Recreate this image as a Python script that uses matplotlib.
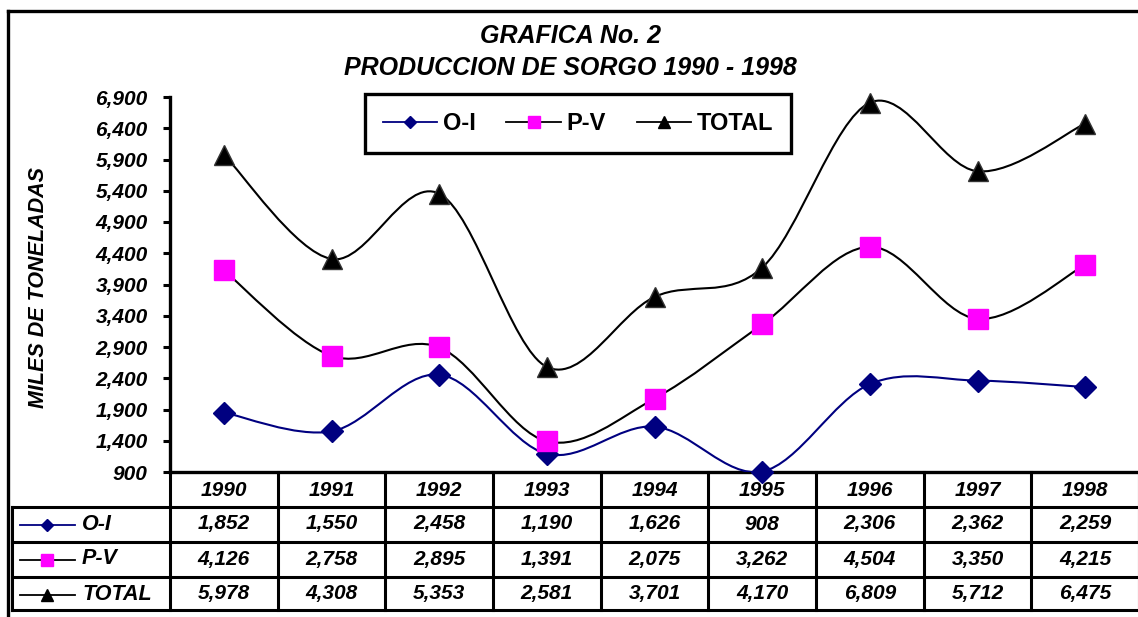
import numpy as np
import matplotlib.pyplot as plt
from matplotlib.path import Path
from matplotlib.patches import PathPatch
from matplotlib.lines import Line2D
from matplotlib.transforms import blended_transform_factory

plt.rcParams['font.family'] = ['Liberation Sans', 'DejaVu Sans']
plt.rcParams['font.weight'] = 'bold'
plt.rcParams['font.style'] = 'italic'

# ========== DATOS ========== #
years = ["1990", "1991", "1992", "1993", "1994", "1995", "1996", "1997", "1998"]
oi = [1852, 1550, 2458, 1190, 1626, 908, 2306, 2362, 2259]
pv = [4126, 2758, 2895, 1391, 2075, 3262, 4504, 3350, 4215]
total = [5978, 4308, 5353, 2581, 3701, 4170, 6809, 5712, 6475]
yticks = list(range(900, 7000, 500))

series = [
    ("O-I", oi, '#000080', 'D', 11, '#000080'),
    ("P-V", pv, 'black', 's', 15, '#FF00FF'),
    ("TOTAL", total, 'black', '^', 15, 'black'),
]

W, H = 1138, 617


def smooth_path(xs, ys):
    # courbe lissée type Excel (Bézier / Catmull-Rom)
    p = np.column_stack([xs, ys]).astype(float)
    n = len(p)
    verts = [p[0]]
    codes = [Path.MOVETO]
    for i in range(n - 1):
        p0 = p[max(i - 1, 0)]
        p3 = p[min(i + 2, n - 1)]
        c1 = p[i] + (p[i + 1] - p0) / 6
        c2 = p[i + 1] - (p3 - p[i]) / 6
        verts += [c1, c2, p[i + 1]]
        codes += [Path.CURVE4] * 3
    return Path(verts, codes)


fig = plt.figure(figsize=(W / 100, H / 100), dpi=100)

# calque en pixels pour le cadre et le tableau
over = fig.add_axes([0, 0, 1, 1])
over.set_xlim(0, W)
over.set_ylim(H, 0)
over.axis('off')

ax_l, ax_r, ax_t, ax_b = 170, 1139, 97, 472
ax = fig.add_axes([ax_l / W, 1 - ax_b / H, (ax_r - ax_l) / W, (ax_b - ax_t) / H])
ax.set_facecolor('none')
x = np.arange(len(years))
ax.set_xlim(-0.5, len(years) - 0.5)
ax.set_ylim(900, 6900)
ax.set_yticks(yticks)
ax.set_yticklabels([f"{v:,}" for v in yticks], fontsize=15, fontweight='bold', style='italic')
ax.set_xticks([])
ax.tick_params(axis='y', length=5, width=2.2, pad=11)
for s in ['top', 'right', 'bottom']:
    ax.spines[s].set_visible(False)
ax.spines['left'].set_linewidth(2.4)

for name, vals, lc, mk, ms, mc in series:
    ax.add_patch(PathPatch(smooth_path(x, vals), fill=False, edgecolor=lc, lw=1.5, zorder=2))
for name, vals, lc, mk, ms, mc in series:
    ax.plot(x, vals, ls='none', marker=mk, markersize=ms, markerfacecolor=mc,
            markeredgecolor='#333333' if mk == '^' else mc, markeredgewidth=1,
            clip_on=False, zorder=3)

handles = [Line2D([], [], color=lc, lw=1.3, marker=mk, markersize=ms * 0.6,
                  markerfacecolor=mc, markeredgecolor=mc)
           for name, vals, lc, mk, ms, mc in series]
leg = fig.legend(handles, [s[0] for s in series], loc='center',
                 bbox_to_anchor=(578 / W, 1 - 123.5 / H), ncol=3,
                 handlelength=2.3, handletextpad=0.25, columnspacing=1.3,
                 borderpad=0.75, fancybox=False, framealpha=1,
                 prop={'weight': 'bold', 'style': 'normal', 'size': 17})
leg.get_frame().set_edgecolor('black')
leg.get_frame().set_linewidth(2.4)

# titre
fig.text(570 / W, 1 - 36 / H, "GRAFICA No. 2", ha='center', va='center', fontsize=18,
         fontweight='bold', style='italic')
fig.text(570 / W, 1 - 68 / H, "PRODUCCION DE SORGO 1990 - 1998", ha='center', va='center',
         fontsize=18, fontweight='bold', style='italic')
fig.text(39 / W, 1 - 288 / H, "MILES DE TONELADAS", rotation=90, ha='center', va='center',
         fontsize=15.5, fontweight='bold', style='italic')

# cadre extérieur
over.plot([8, 8], [11, H], color='black', lw=2.4)
over.plot([8, W], [11, 11], color='black', lw=2.4)

# tableau de données
tr = blended_transform_factory(ax.transData, over.transData)
rows_y = [472, 507, 542, 577, 610]
lw_t = 2.2
over.plot([ax_l, W], [472, 472], color='black', lw=2.4)
for yy in rows_y[1:]:
    over.plot([12, W], [yy, yy], color='black', lw=lw_t)
over.plot([12, 12], [507, 610], color='black', lw=lw_t)
for i in range(len(years) + 1):
    over.plot([i - 0.5, i - 0.5], [472, 610], color='black', lw=lw_t, transform=tr, clip_on=False)

for i, yr in enumerate(years):
    over.text(i, 490, yr, transform=tr, ha='center', va='center', fontsize=15,
              fontweight='bold', style='italic')
row_c = [524, 559, 594]
for (name, vals, lc, mk, ms, mc), yc in zip(series, row_c):
    for i, v in enumerate(vals):
        over.text(i, yc, f"{v:,}", transform=tr, ha='center', va='center', fontsize=15,
                  fontweight='bold', style='italic')
    over.plot([20, 75], [yc + 1, yc + 1], color=lc, lw=1.3)
    over.plot([47], [yc + 1], marker=mk, markersize=ms * 0.6, markerfacecolor=mc,
              markeredgecolor=mc, ls='none')
    over.text(82, yc, name, ha='left', va='center', fontsize=15.5, fontweight='bold', style='italic')

fig.savefig('out.png', dpi=100)
